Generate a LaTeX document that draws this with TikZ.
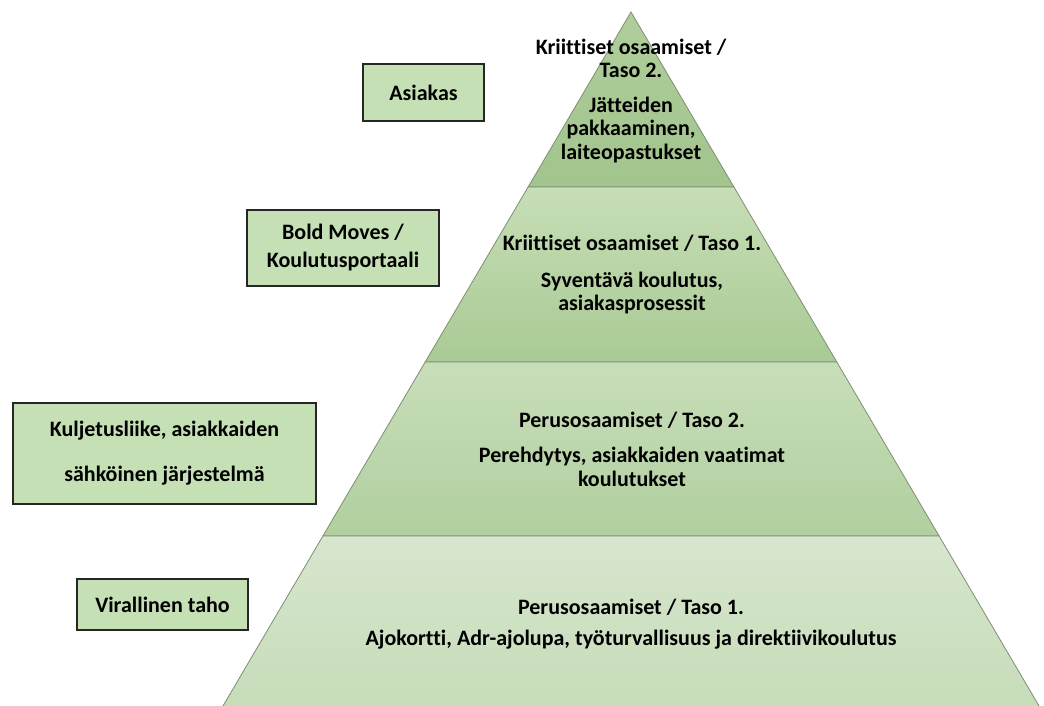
\documentclass[tikz,border=0pt]{standalone}
\usepackage{fontspec}
\setmainfont[Ligatures=NoCommon]{Carlito}
\usepackage{tikz}

\definecolor{boxgreen}{HTML}{C5E0B4}
\definecolor{pyrline}{HTML}{7E8E73}
\definecolor{gA}{HTML}{AFCE9B}
\definecolor{gAb}{HTML}{A2C48D}
\definecolor{gB}{HTML}{C7DEB7}
\definecolor{gBb}{HTML}{A9CA94}
\definecolor{gC}{HTML}{C8DEB9}
\definecolor{gCb}{HTML}{B1CF9F}
\definecolor{gD}{HTML}{D7E6CE}
\definecolor{gDb}{HTML}{C6DCB8}

\tikzset{
	sidebox/.style={draw=black!85, line width=1.1pt, fill=boxgreen, inner sep=0pt, align=center,
		font=\bfseries\fontsize{22}{24}\selectfont},
	bandtext/.style={inner sep=0pt, align=center, font=\bfseries\fontsize{22}{23.5}\selectfont}
}

\begin{document}
\begin{tikzpicture}[x=1pt, y=-1pt]
\clip (0,0) rectangle (1044,705);
\fill[white] (0,0) rectangle (1044,705);

% pyramid bands, top to bottom
\foreach \ya/\yb/\ctop/\cbot in {12/187/gA/gAb, 187/362/gB/gBb, 362/536/gC/gCb, 536/711/gD/gDb}
{
	\shade[draw=pyrline, line width=0.8pt, top color=\ctop, bottom color=\cbot]
		({631-0.588*(\ya-12)}, \ya) -- ({631+0.588*(\ya-12)}, \ya)
		-- ({631+0.588*(\yb-12)}, \yb) -- ({631-0.588*(\yb-12)}, \yb) -- cycle;
}

\node[bandtext] (t1) at (631,101) {Kriittiset osaamiset /\\Taso 2.\\[11pt]J\"atteiden\\pakkaaminen,\\laiteopastukset};
\node[bandtext] (t2) at (632,275) {Kriittiset osaamiset / Taso 1.\\[13pt]Syvent\"av\"a koulutus,\\asiakasprosessit};
\node[bandtext] (t3) at (632,449) {Perusosaamiset / Taso 2.\\[12pt]Perehdytys, asiakkaiden vaatimat\\koulutukset};
\node[bandtext] (t4) at (631,624) {Perusosaamiset / Taso 1.\\[8pt]Ajokortti, Adr-ajolupa, ty\"oturvallisuus ja direktiivikoulutus};

% boxes on the left
\node[sidebox, minimum width=121, minimum height=57] (b1) at (423.5,92.5) {Asiakas};
\node[sidebox, minimum width=192, minimum height=76] (b2) at (343,248) {Bold Moves /\\[4pt]Koulutusportaali};
\node[sidebox, minimum width=303, minimum height=101] (b3) at (164.5,453.5) {Kuljetusliike, asiakkaiden\\[21pt]s\"ahk\"oinen j\"arjestelm\"a};
\node[sidebox, minimum width=171, minimum height=51] (b4) at (162.5,604.5) {Virallinen taho};
\end{tikzpicture}
\end{document}
